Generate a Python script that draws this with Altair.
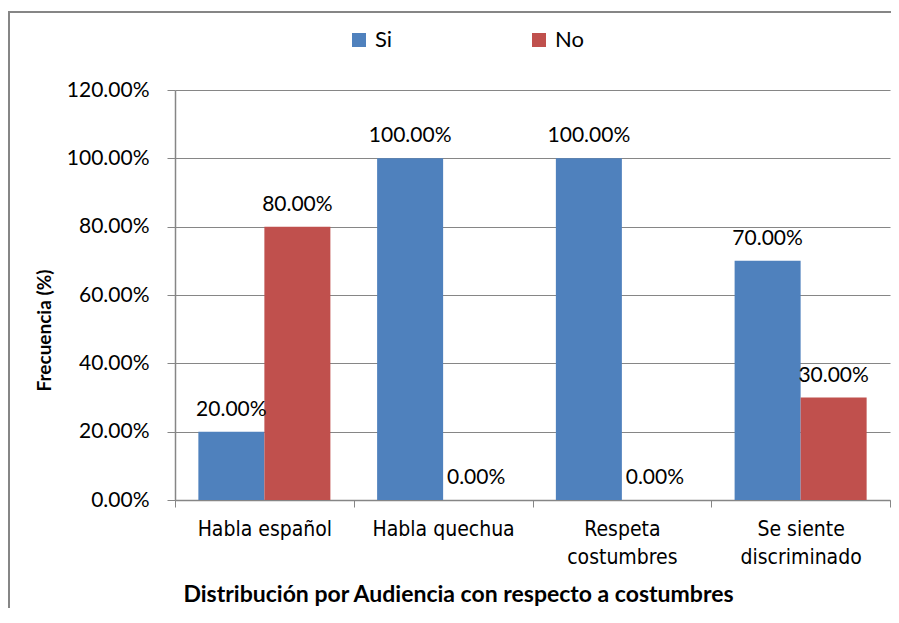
import altair as alt
import pandas as pd

categories = ["Habla español", "Habla quechua", "Respeta costumbres", "Se siente discriminado"]
series = ["Si", "No"]
si_values = [0.20, 1.00, 1.00, 0.70]
no_values = [0.80, 0.00, 0.00, 0.30]
y_ticks = [0, 0.2, 0.4, 0.6, 0.8, 1.0, 1.2]
colors = ["#4F81BD", "#C0504D"]

rows = []
for c, s, n in zip(categories, si_values, no_values):
    rows.append({"cat": c, "serie": "Si", "val": s})
    rows.append({"cat": c, "serie": "No", "val": n})
df = pd.DataFrame(rows)

label_expr = ("datum.value == 'Respeta costumbres' ? ['Respeta', 'costumbres'] : "
              "datum.value == 'Se siente discriminado' ? ['Se siente', 'discriminado'] : datum.value")

GRAY = "#868686"
NUM_FONT = "Lato"
NARROW = "DejaVu Sans Condensed"

x = alt.X("cat:N", sort=categories,
          scale=alt.Scale(paddingInner=0, paddingOuter=0),
          axis=alt.Axis(title="Distribución por Audiencia con respecto a costumbres",
                        labelExpr=label_expr, labelAngle=0,
                        labelFont=NARROW, labelFontSize=21, labelColor="#000000",
                        labelLineHeight=28, labelPadding=11, labelBaseline="top",
                        tickBand="extent", tickSize=7, tickColor=GRAY,
                        domainColor=GRAY, domainWidth=1.5,
                        titleFont=NUM_FONT, titleFontWeight="bold", titleFontSize=23,
                        titleColor="#000000", titleX=283, titleY=101,
                        titleAlign="center", titleBaseline="alphabetic"))
xo = alt.XOffset("serie:N", sort=series,
                 scale=alt.Scale(paddingInner=0, paddingOuter=0.354))
y = alt.Y("val:Q", scale=alt.Scale(domain=[0, 1.2], nice=False),
          axis=alt.Axis(values=y_ticks, format=".2%", title="Frecuencia (%)",
                        labelFont=NUM_FONT, labelFontSize=21, labelColor="#000000",
                        labelPadding=18, tickSize=8, tickColor=GRAY,
                        domainColor=GRAY, domainWidth=1.5,
                        gridColor=GRAY, gridWidth=1.2,
                        titleFont=NUM_FONT, titleFontWeight="bold", titleFontSize=19,
                        titleColor="#000000", titleX=-131, titleY=240,
                        titleAngle=-90, titleAlign="center", titleBaseline="middle"))

color = alt.Color("serie:N", sort=series,
                  scale=alt.Scale(domain=series, range=colors),
                  legend=alt.Legend(orient="none", legendX=173, legendY=-61,
                                    direction="horizontal", title=None,
                                    symbolType="square", symbolSize=196,
                                    symbolStrokeWidth=0,
                                    labelFont=NUM_FONT, labelFontSize=22,
                                    labelColor="#000000", labelOffset=5,
                                    columnPadding=135))

bars = alt.Chart(df).mark_bar(stroke=None).encode(x=x, xOffset=xo, y=y, color=color)
texts = alt.Chart(df).mark_text(baseline="alphabetic", align="center", dy=-16,
                                font=NUM_FONT, fontSize=21, color="#000000").encode(
    x=alt.X("cat:N", sort=categories), xOffset=alt.XOffset("serie:N", sort=series),
    y="val:Q", text=alt.Text("val:Q", format=".2%"))

frame_left = alt.Chart(df).mark_rect(fill=GRAY, strokeWidth=0).encode(
    x=alt.value(-167), x2=alt.value(-165.5), y=alt.value(-79), y2=alt.value(540))
frame_top = alt.Chart(df).mark_rect(fill=GRAY, strokeWidth=0).encode(
    x=alt.value(-167), x2=alt.value(740), y=alt.value(-79), y2=alt.value(-77.5))

chart = alt.layer(frame_left, frame_top, bars, texts).properties(
    width=715, height=410,
    autosize=alt.AutoSizeParams(type="none"),
    padding={"left": 167, "top": 82, "right": 1, "bottom": 108},
).configure_view(stroke=None)

chart.save("out.html", embed_options={"renderer": "svg", "actions": False})
